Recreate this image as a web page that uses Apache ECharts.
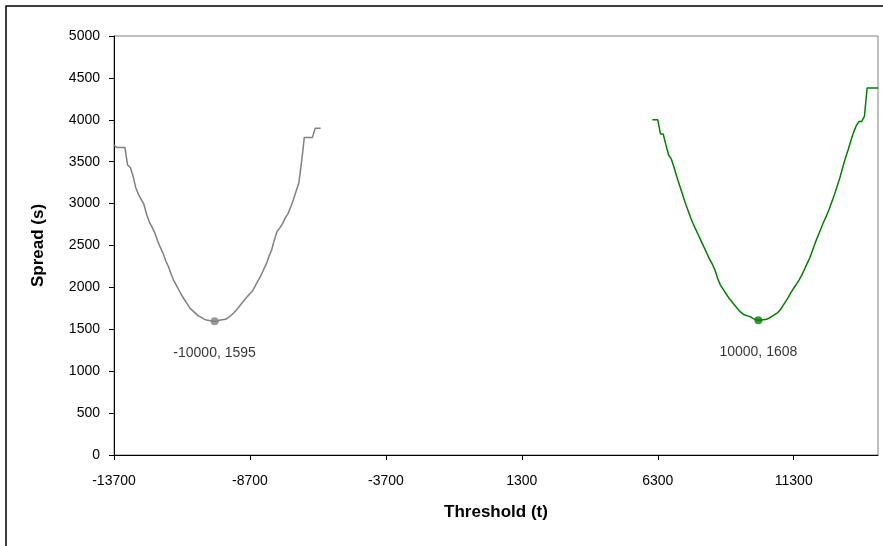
<!DOCTYPE html>
<html>
<head>
    <meta charset="utf-8" />
    <title>Spread vs Threshold</title>
    <script type="text/javascript" src="https://cdn.jsdelivr.net/npm/echarts@6/dist/echarts.min.js"></script>
</head>
<body style="margin:0;background:#fff">
<div id="main" style="width: 883px;height:546px;"></div>
<script type="text/javascript">
    // data: [threshold, spread]
    var grayPoints = [
        [-13700,3700],[-13600,3670],[-13500,3670],[-13400,3670],[-13300,3670],[-13200,3460],
        [-13100,3430],[-13000,3330],[-12900,3190],[-12800,3110],[-12700,3050],[-12600,2990],
        [-12500,2870],[-12400,2780],[-12300,2720],[-12200,2650],[-12100,2560],[-12000,2480],
        [-11900,2410],[-11800,2320],[-11700,2250],[-11600,2160],[-11500,2080],[-11400,2020],
        [-11300,1960],[-11200,1900],[-11100,1850],[-11000,1800],[-10900,1750],[-10800,1720],
        [-10700,1690],[-10600,1660],[-10500,1645],[-10400,1625],[-10300,1610],[-10200,1605],
        [-10100,1600],[-10000,1595],[-9900,1600],[-9800,1610],[-9700,1615],[-9600,1620],
        [-9500,1640],[-9400,1665],[-9300,1695],[-9200,1730],[-9100,1770],[-9000,1810],
        [-8900,1850],[-8800,1890],[-8700,1925],[-8600,1960],[-8500,2020],[-8400,2080],
        [-8300,2140],[-8200,2210],[-8100,2280],[-8000,2370],[-7900,2450],[-7800,2570],
        [-7700,2670],[-7600,2710],[-7500,2760],[-7400,2830],[-7300,2880],[-7200,2960],
        [-7100,3050],[-7000,3150],[-6900,3250],[-6800,3500],[-6700,3790],[-6600,3790],
        [-6500,3790],[-6400,3790],[-6300,3900],[-6200,3900],[-6100,3900]
    ];
    var greenPoints = [
        [6100,4000],[6200,4000],[6300,4000],[6400,3830],[6500,3830],[6600,3700],
        [6700,3580],[6800,3530],[6900,3430],[7000,3320],[7100,3220],[7200,3120],
        [7300,3020],[7400,2930],[7500,2840],[7600,2760],[7700,2690],[7800,2620],
        [7900,2550],[8000,2480],[8100,2410],[8200,2340],[8300,2280],[8400,2210],
        [8500,2110],[8600,2030],[8700,1980],[8800,1930],[8900,1880],[9000,1840],
        [9100,1800],[9200,1760],[9300,1720],[9400,1690],[9500,1670],[9600,1660],
        [9700,1650],[9800,1630],[9900,1615],[10000,1608],[10100,1610],[10200,1615],
        [10300,1620],[10400,1635],[10500,1655],[10600,1675],[10700,1695],[10800,1730],
        [10900,1780],[11000,1830],[11100,1880],[11200,1940],[11300,1990],[11400,2040],
        [11500,2090],[11600,2150],[11700,2220],[11800,2290],[11900,2360],[12000,2450],
        [12100,2540],[12200,2620],[12300,2700],[12400,2780],[12500,2850],[12600,2930],
        [12700,3020],[12800,3110],[12900,3210],[13000,3310],[13100,3430],[13200,3540],
        [13300,3640],[13400,3750],[13500,3850],[13600,3930],[13700,3980],[13800,3980],
        [13900,4040],[14000,4380],[14100,4380],[14200,4380],[14300,4380],[14400,4380]
    ];
    var grayMin = [-10000, 1595];
    var greenMin = [10000, 1608];

    var font = 'Liberation Sans, Arial, sans-serif';
    var plain = function (v) { return String(v); };
    var minLabel = function (p) { return p.value[0] + ', ' + p.value[1]; };

    var myChart = echarts.init(document.getElementById('main'));
    var option = {
        animation: false,
        backgroundColor: '#fff',
        graphic: [{
            type: 'rect',
            shape: {x: 6, y: 6, width: 1000, height: 1000},
            style: {fill: 'none', stroke: '#000', lineWidth: 1.5},
            silent: true
        }],
        grid: {
            left: 114,
            right: 5,
            top: 36,
            bottom: 91,
            show: true,
            borderColor: '#808080',
            borderWidth: 1,
            backgroundColor: '#fff'
        },
        xAxis: {
            type: 'value',
            min: -13700,
            max: 14400,
            interval: 5000,
            name: 'Threshold (t)',
            nameLocation: 'middle',
            nameGap: 49,
            nameTextStyle: {fontFamily: font, fontSize: 17, fontWeight: 'bold', color: '#000'},
            axisLine: {onZero: false, lineStyle: {color: '#000', width: 1}},
            axisTick: {show: true, inside: false, length: 5, lineStyle: {color: '#000'}},
            axisLabel: {
                fontFamily: font, fontSize: 14, color: '#000', margin: 19,
                showMaxLabel: false, formatter: plain
            },
            splitLine: {show: false}
        },
        yAxis: {
            type: 'value',
            min: 0,
            max: 5000,
            interval: 500,
            name: 'Spread (s)',
            nameLocation: 'middle',
            nameGap: 67,
            nameRotate: 90,
            nameTextStyle: {fontFamily: font, fontSize: 17, fontWeight: 'bold', color: '#000'},
            axisLine: {show: true, onZero: false, lineStyle: {color: '#000', width: 1}},
            axisTick: {show: true, inside: false, length: 5, lineStyle: {color: '#000'}},
            axisLabel: {fontFamily: font, fontSize: 14, color: '#000', margin: 14, formatter: plain},
            splitLine: {show: false}
        },
        series: [
            {
                name: 'gray',
                type: 'line',
                data: grayPoints,
                showSymbol: false,
                symbol: 'none',
                lineStyle: {color: '#808080', width: 1.5},
                z: 2
            },
            {
                name: 'green',
                type: 'line',
                data: greenPoints,
                showSymbol: false,
                symbol: 'none',
                lineStyle: {color: '#008000', width: 1.5},
                z: 2
            },
            {
                type: 'scatter',
                data: [grayMin],
                symbolSize: 8,
                itemStyle: {color: '#808080'},
                label: {
                    show: true, position: 'bottom', distance: 21,
                    fontFamily: font, fontSize: 14, color: '#000',
                    formatter: minLabel
                },
                z: 3
            },
            {
                type: 'scatter',
                data: [greenMin],
                symbolSize: 8,
                itemStyle: {color: '#008000'},
                label: {
                    show: true, position: 'bottom', distance: 21,
                    fontFamily: font, fontSize: 14, color: '#000',
                    formatter: minLabel
                },
                z: 3
            }
        ]
    };
    myChart.setOption(option);
</script>
</body>
</html>
